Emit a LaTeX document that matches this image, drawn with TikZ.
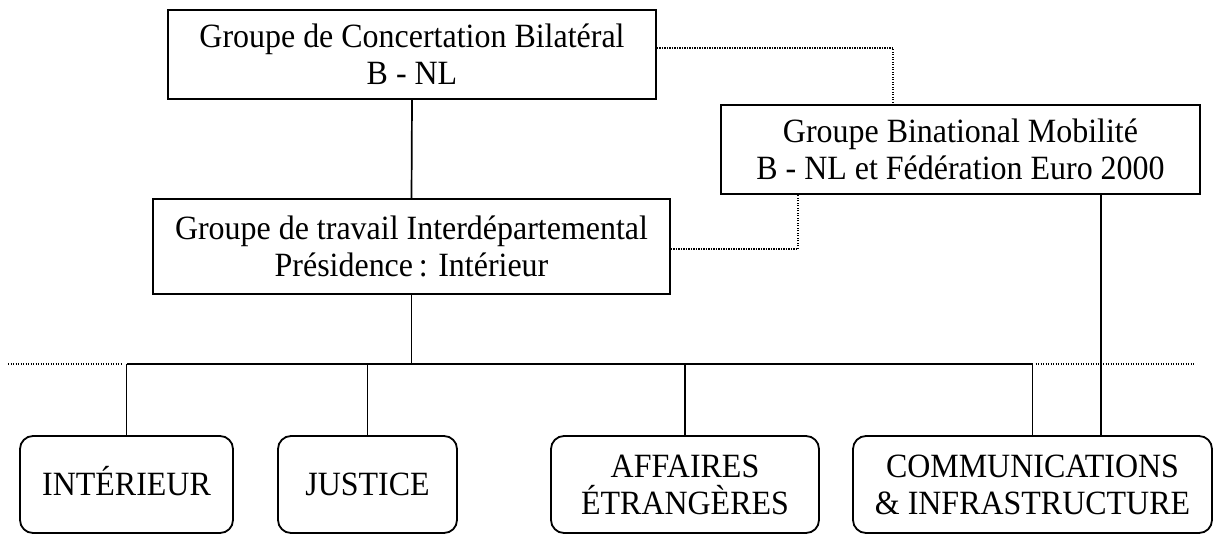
\documentclass[tikz,border=0pt]{standalone}
\usepackage{fontspec}
\setmainfont{Liberation Serif}[FakeStretch=0.94]
% one text line whose capitals are centred in its box
\newcommand{\capline}[1]{\rule{0pt}{22.5pt}\smash{#1}}
\begin{document}
\begin{tikzpicture}[x=1pt,y=-1pt,
  every node/.style={font=\fontsize{34}{37}\selectfont, align=center, inner sep=0pt},
  plainbox/.style={draw, line width=1.8pt},
  ministry/.style={draw, line width=1.8pt, rounded corners=13pt, minimum height=97pt},
  link/.style={line width=1.7pt},
  dotline/.style={line width=1.1pt, dash pattern=on 1.1pt off 1.4pt}]
\useasboundingbox (0,0) rectangle (1214,535);

% coordination bodies
\node[plainbox, minimum width=488pt, minimum height=89pt] (top) at (412,54.5)
  {\capline{Groupe de Concertation Bilatéral}\\\capline{B - NL}};
\node[plainbox, minimum width=479pt, minimum height=89pt] (binat) at (960.5,149.5)
  {\capline{Groupe Binational Mobilité}\\\capline{B - NL et Fédération Euro 2000}};
\node[plainbox, minimum width=517pt, minimum height=95pt] (inter) at (411.5,246.5)
  {\capline{Groupe de travail Interdépartemental}\\\capline{Présidence\,: Intérieur}};

% ministries
\node[ministry, minimum width=213pt] (intr) at (126.5,484.5) {\capline{INTÉRIEUR}};
\node[ministry, minimum width=179pt] (just) at (367.5,484.5) {\capline{JUSTICE}};
\node[ministry, minimum width=268pt] (aff) at (685,484.5) {\capline{AFFAIRES}\\\capline{ÉTRANGÈRES}};
\node[ministry, minimum width=359pt] (comm) at (1032.5,484.5) {\capline{COMMUNICATIONS}\\\capline{\& INFRASTRUCTURE}};

% helper coordinates
\coordinate (bus) at (0,364);
\coordinate (busL) at (8,364);
\coordinate (busR) at (1194,364);
\coordinate (k1) at (893,0);
\coordinate (k2) at (798,0);
\coordinate (mob) at (1101,0);

% hierarchy
\draw[link] (top.south) -- (inter.north);
\draw[link] (inter.south) -- (inter.south |- bus);
\draw[link] (bus -| intr.north) -- (bus -| comm.north);
\foreach \m in {intr,just,aff,comm}
  \draw[link] (bus -| \m.north) -- (\m.north);
\draw[link] (binat.south -| mob) -- ([yshift=-2pt]comm.north -| mob);

% dotted liaisons
\draw[dotline] (busL) -- ([xshift=-5pt]bus -| intr.north);
\draw[dotline] ([xshift=3pt]bus -| comm.north) -- (busR);
\draw[dotline] ([yshift=6.5pt]top.east) -| (binat.north -| k1);
\draw[dotline] ([yshift=-2.5pt]inter.east) -| (binat.south -| k2);
\end{tikzpicture}
\end{document}
